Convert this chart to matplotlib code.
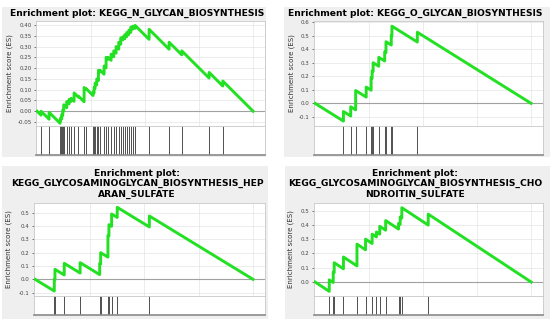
import matplotlib
matplotlib.use("Agg")
import matplotlib.pyplot as plt
from matplotlib.patches import Rectangle
from matplotlib.ticker import FormatStrFormatter

# ---------------- data (hit positions as fraction of ranked list, ES right after each hit)
titles = [
    "Enrichment plot: KEGG_N_GLYCAN_BIOSYNTHESIS",
    "Enrichment plot: KEGG_O_GLYCAN_BIOSYNTHESIS",
    "Enrichment plot:\nKEGG_GLYCOSAMINOGLYCAN_BIOSYNTHESIS_HEP\nARAN_SULFATE",
    "Enrichment plot:\nKEGG_GLYCOSAMINOGLYCAN_BIOSYNTHESIS_CHO\nNDROITIN_SULFATE",
]

n_glycan_hits = [0.0185, 0.0556, 0.1065, 0.1096, 0.1142, 0.1188, 0.1235, 0.1373, 0.1481,
                 0.1574, 0.1713, 0.1914, 0.2176, 0.2269, 0.2593, 0.2639, 0.2685, 0.2762,
                 0.2840, 0.2917, 0.3102, 0.3194, 0.3287, 0.3426, 0.3549, 0.3657, 0.3781,
                 0.3873, 0.3966, 0.4059, 0.4151, 0.4244, 0.4336, 0.4429, 0.4537, 0.5185,
                 0.6111, 0.6698, 0.7963, 0.8596]
n_glycan_es = [0.000, -0.005, -0.040, -0.030, -0.015, 0.005, 0.030, 0.045, 0.055, 0.060,
               0.085, 0.070, 0.110, 0.105, 0.090, 0.110, 0.130, 0.150, 0.190, 0.190,
               0.210, 0.250, 0.250, 0.265, 0.280, 0.300, 0.320, 0.340, 0.345, 0.355,
               0.365, 0.375, 0.390, 0.395, 0.398, 0.380, 0.320, 0.280, 0.180, 0.140]

o_glycan_hits = [0.1313, 0.1649, 0.1878, 0.2366, 0.2595, 0.2641, 0.2687, 0.2947, 0.3221,
                 0.3282, 0.3527, 0.3557, 0.4733]
o_glycan_es = [-0.060, -0.025, 0.095, 0.120, 0.190, 0.240, 0.300, 0.340, 0.380, 0.455,
               0.500, 0.570, 0.525]

heparan_hits = [0.0881, 0.0912, 0.1337, 0.2067, 0.2964, 0.3009, 0.3343, 0.3389, 0.3511,
                0.3769, 0.5243]
heparan_es = [0.000, 0.075, 0.120, 0.125, 0.120, 0.200, 0.330, 0.410, 0.490, 0.540, 0.475]

chondroitin_hits = [0.0656, 0.0840, 0.0885, 0.1313, 0.1939, 0.2336, 0.2641, 0.2840, 0.2992,
                    0.3267, 0.3863, 0.3939, 0.4015, 0.5237]
chondroitin_es = [0.015, 0.070, 0.135, 0.175, 0.265, 0.300, 0.335, 0.350, 0.390, 0.430,
                  0.410, 0.455, 0.520, 0.475]

yticks_list = [
    [-0.05, 0.00, 0.05, 0.10, 0.15, 0.20, 0.25, 0.30, 0.35, 0.40],
    [-0.1, 0.0, 0.1, 0.2, 0.3, 0.4, 0.5, 0.6],
    [-0.1, 0.0, 0.1, 0.2, 0.3, 0.4, 0.5],
    [0.0, 0.1, 0.2, 0.3, 0.4, 0.5],
]

# ---------------- layout (pixels)
W, H = 550, 323
fig = plt.figure(figsize=(W / 100, H / 100), dpi=100)
fig.patch.set_facecolor("white")

def fx(x):
    return x / W

def fy(y):
    return 1 - y / H

panels = [
    dict(hits=n_glycan_hits, es=n_glycan_es, title=titles[0], yt=yticks_list[0], fmt="%.2f",
         ylim=(-0.0685, 0.4185), box=(36, 265, 21, 126, 155), bg=(2, 266, 7, 157),
         tpos=(137, 13), lab_pad=3),
    dict(hits=o_glycan_hits, es=o_glycan_es, title=titles[1], yt=yticks_list[1], fmt="%.1f",
         ylim=(-0.167, 0.608), box=(314, 543, 21, 126, 155), bg=(284, 550, 7, 157),
         tpos=(415, 13), lab_pad=3),
    dict(hits=heparan_hits, es=heparan_es, title=titles[2], yt=yticks_list[2], fmt="%.1f",
         ylim=(-0.125, 0.5725), box=(34, 265, 203, 296, 315), bg=(2, 268, 166, 319),
         tpos=(137, 184), lab_pad=5),
    dict(hits=chondroitin_hits, es=chondroitin_es, title=titles[3], yt=yticks_list[3], fmt="%.1f",
         ylim=(-0.098, 0.553), box=(314, 543, 203, 296, 315), bg=(285, 550, 166, 319),
         tpos=(415, 184), lab_pad=5),
]

GREEN = "#22e022"
for p in panels:
    bx0, bx1, by0, bym, by1 = p["box"]
    gx0, gx1, gy0, gy1 = p["bg"]
    fig.patches.append(Rectangle((fx(gx0), fy(gy1)), fx(gx1 - gx0), (gy1 - gy0) / H,
                                 transform=fig.transFigure, facecolor="#efefef",
                                 edgecolor="none", zorder=-10))
    fig.text(fx(p["tpos"][0]), fy(p["tpos"][1]), p["title"], ha="center", va="center",
             multialignment="center", fontsize=6.6, fontweight="bold", linespacing=1.2,
             zorder=5)

    # ES axes
    ax = fig.add_axes([fx(bx0), fy(bym), fx(bx1 - bx0), (bym - by0) / H])
    ax.set_zorder(2)
    ax.set_facecolor("white")
    hits, es = p["hits"], p["es"]
    slope = es[-1] / (1 - hits[-1])
    xs, ys = [0.0], [0.0]
    prev_x, prev_es = 0.0, 0.0
    for h, e in zip(hits, es):
        before = prev_es - slope * (h - prev_x)
        xs += [h, h]
        ys += [before, e]
        prev_x, prev_es = h, e
    xs.append(1.0)
    ys.append(prev_es - slope * (1.0 - prev_x))
    ax.plot(xs, ys, color=GREEN, lw=2.1, solid_joinstyle="round", zorder=3)
    ax.axhline(0, color="#a0a0a0", lw=0.8, zorder=2)
    ax.set_xlim(-0.005, 1.055)
    ax.set_ylim(*p["ylim"])
    ax.set_yticks(p["yt"])
    ax.yaxis.set_major_formatter(FormatStrFormatter(p["fmt"]))
    ax.set_xticks([0.25, 0.5, 0.75, 1.0])
    ax.tick_params(axis="x", length=0, labelbottom=False)
    ax.tick_params(axis="y", length=1.5, width=0.5, pad=1.5, labelsize=4, colors="#444444")
    ax.grid(True, color="#e4e4e4", lw=0.5)
    ax.set_axisbelow(True)
    for s in ax.spines.values():
        s.set_color("#c8c8c8")
        s.set_linewidth(0.6)
    ax.set_ylabel("Enrichment score (ES)", fontsize=5, color="#333333", labelpad=p["lab_pad"])

    # hits axes
    hx = fig.add_axes([fx(bx0), fy(by1), fx(bx1 - bx0), (by1 - bym) / H])
    hx.set_zorder(2)
    hx.set_facecolor("white")
    hx.vlines(hits, 0, 1, color="#333333", lw=0.6)
    hx.set_xlim(-0.005, 1.055)
    hx.set_ylim(0, 1)
    hx.set_xticks([])
    hx.set_yticks([])
    for s in hx.spines.values():
        s.set_color("#c8c8c8")
        s.set_linewidth(0.6)
    hx.spines["bottom"].set_color("#8a8a8a")
    hx.spines["bottom"].set_linewidth(1.2)

fig.savefig("out.png", dpi=100)
